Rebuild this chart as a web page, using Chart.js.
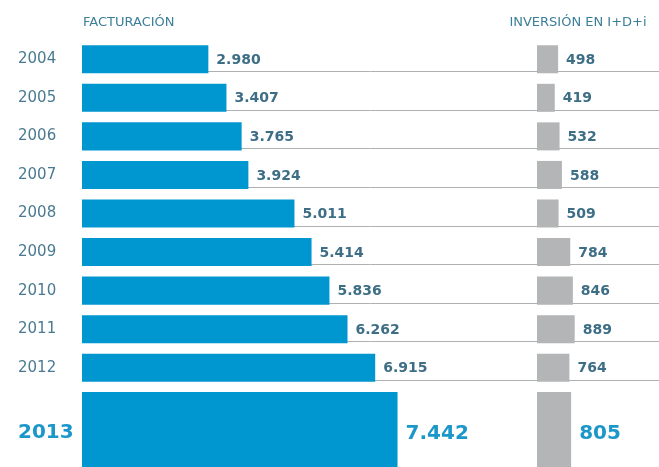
<!DOCTYPE html>
<html lang="es">
<head>
<meta charset="utf-8">
<script src="https://cdn.jsdelivr.net/npm/chart.js@4"></script>
<style>
  html,body{margin:0;padding:0;background:#fff;overflow:hidden;width:659px;height:467px;}
  .wrap{position:absolute;left:0;width:659px;}
  #top{top:0;height:387px;}
  #bottom{top:386px;height:94px;}
</style>
</head>
<body>
<div class="wrap" id="top"><canvas id="chartTop"></canvas></div>
<div class="wrap" id="bottom"><canvas id="chartBottom"></canvas></div>
<script>
// ===== datos =====
const years = ['2004','2005','2006','2007','2008','2009','2010','2011','2012','2013'];
const facturacion = [2980,3407,3765,3924,5011,5414,5836,6262,6915,7442];
const inversion = [498,419,532,588,509,784,846,889,764,805];
const headers = ['FACTURACIÓN','INVERSIÓN EN I+D+i'];

// ===== geometría (px) =====
const LEFT = 82, GRAY0 = 537, RIGHT = 659, PX = 0.0424;
const xMax = (RIGHT - LEFT) / PX;
const grayMin = -(GRAY0 - LEFT) / PX;

const BLUE = '#0096cf', GRAY = '#b3b5b6';
const FONT = '"DejaVu Sans", sans-serif';

function fmt(v){ return String(v).replace(/\B(?=(\d{3})+(?!\d))/g, '.'); }

// líneas bajo cada fila + etiquetas de valor + cabeceras
const rowDeco = {
  id: 'rowDeco',
  beforeDatasetsDraw(chart){
    const {ctx, chartArea} = chart;
    ctx.save();
    ctx.strokeStyle = '#aeb0b1';
    ctx.lineWidth = 1;
    chart.getDatasetMeta(0).data.forEach(bar => {
      const y = Math.round(bar.y + bar.height/2) - 1.5;
      ctx.beginPath();
      ctx.moveTo(chartArea.left, y);
      ctx.lineTo(chartArea.right, y);
      ctx.stroke();
    });
    ctx.restore();
  },
  afterDatasetsDraw(chart, args, opts){
    const {ctx} = chart;
    ctx.save();
    ctx.font = opts.font;
    ctx.fillStyle = opts.color;
    ctx.textBaseline = 'middle';
    ctx.textAlign = 'left';
    chart.data.datasets.forEach((ds, i) => {
      chart.getDatasetMeta(i).data.forEach((bar, j) => {
        ctx.fillText(fmt(ds.data[j]), bar.x + 8, bar.y + 1);
      });
    });
    if(opts.headers){
      ctx.font = '13px ' + FONT;
      ctx.fillStyle = '#3c7f99';
      ctx.fillText(headers[0], chart.scales.x.getPixelForValue(0) + 1, 23);
      ctx.textAlign = 'center';
      ctx.fillText(headers[1], 578, 23);
    }
    ctx.restore();
  }
};

function makeChart(id, labels, fact, inv, cfg){
  return new Chart(document.getElementById(id), {
    type: 'bar',
    data: {
      labels,
      datasets: [
        { data: fact, backgroundColor: BLUE, xAxisID: 'x', grouped: false,
          categoryPercentage: 1, barPercentage: cfg.barPct, borderWidth: 0 },
        { data: inv, backgroundColor: GRAY, xAxisID: 'x2', grouped: false,
          categoryPercentage: 1, barPercentage: cfg.barPct, borderWidth: 0 }
      ]
    },
    options: {
      indexAxis: 'y',
      responsive: true,
      maintainAspectRatio: false,
      animation: false,
      layout: { padding: { left: 18, right: 0, top: cfg.padTop, bottom: 0 } },
      scales: {
        x: { type: 'linear', display: false, min: 0, max: xMax },
        x2: { type: 'linear', display: false, min: grayMin, max: grayMin + xMax },
        y: {
          grid: { display: false },
          border: { display: false },
          afterFit: s => { s.width = LEFT - 18; s.paddingTop = 0; s.paddingBottom = 0; },
          ticks: { crossAlign: 'far', color: cfg.yearColor, font: cfg.yearFont }
        }
      },
      plugins: {
        legend: { display: false },
        tooltip: { enabled: false },
        rowDeco: { font: cfg.valueFont, color: cfg.valueColor, headers: cfg.headers }
      }
    },
    plugins: [rowDeco]
  });
}

makeChart('chartTop', years.slice(0, -1), facturacion.slice(0, -1), inversion.slice(0, -1), {
  barPct: 0.727, padTop: 40, headers: true,
  yearColor: '#4a7a91', yearFont: { family: FONT, size: 15 },
  valueFont: 'bold 14px ' + FONT, valueColor: '#3d6e86'
});

makeChart('chartBottom', years.slice(-1), facturacion.slice(-1), inversion.slice(-1), {
  barPct: 0.872, padTop: 0, headers: false,
  yearColor: '#1b97c9', yearFont: { family: FONT, size: 20, weight: 'bold' },
  valueFont: 'bold 20px ' + FONT, valueColor: '#1b97c9'
});
</script>
</body>
</html>
